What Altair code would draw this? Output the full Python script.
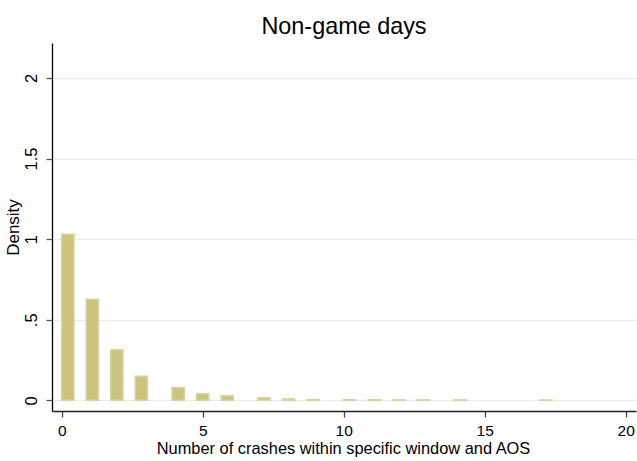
import numpy as np
import pandas as pd
import altair as alt

# Histogram of crash counts per window/AOS on non-game days (density scale)
crash_counts = [0, 1, 2, 3, 4, 5, 6, 7, 8, 9, 10, 11, 12, 13, 14, 17]
density = [1.031, 0.627, 0.314, 0.149, 0.080, 0.041, 0.029, 0.016,
           0.009, 0.006, 0.004, 0.004, 0.003, 0.003, 0.003, 0.002]
bin_width = 0.4347

x_ticks = [0, 5, 10, 15, 20]
y_ticks = [0, 0.5, 1, 1.5, 2]
y_tick_text = ["0", ".5", "1", "1.5", "2"]

counts = np.array(crash_counts, dtype=float)
left = np.floor(counts / bin_width) * bin_width
df = pd.DataFrame({
    "count": crash_counts,
    "bin_start": left,
    "bin_end": left + bin_width,
    "density": density,
})

FONT = "Liberation Sans"

label_expr = "{" + ", ".join(f"'{v}': '{t}'" for v, t in zip(y_ticks, y_tick_text)) + "}[datum.value + '']"

bars = alt.Chart(df).mark_bar(
    color="#cbc47f", stroke="#d9d3a0", strokeWidth=1.5
).encode(
    x=alt.X("bin_start:Q",
            scale=alt.Scale(domain=[-0.344, 20.365], nice=False, zero=False),
            axis=alt.Axis(values=x_ticks, format="d", grid=False,
                          title="Number of crashes within specific window and AOS",
                          titleFont=FONT, titleFontSize=16.4, titleFontWeight="normal",
                          titleColor="#000", titleBaseline="alphabetic",
                          titleY=42, titleX=291,
                          labelFont=FONT, labelFontSize=15.5, labelColor="#000",
                          labelPadding=6, tickSize=6, tickColor="#444",
                          tickWidth=1.3, domainColor="#222", domainWidth=1.3)),
    x2="bin_end:Q",
    y=alt.Y("density:Q",
            scale=alt.Scale(domain=[-0.066, 2.217], nice=False, zero=False),
            axis=alt.Axis(values=y_ticks, labelExpr=label_expr,
                          grid=True, gridColor="#e6eef1", gridWidth=1.5,
                          title="Density",
                          titleFont=FONT, titleFontSize=17, titleFontWeight="normal",
                          titleColor="#000", titleAngle=270, titleAlign="center",
                          titleBaseline="alphabetic", titleX=-34, titleY=184,
                          labelFont=FONT, labelFontSize=16.5, labelColor="#000",
                          labelAngle=270, labelAlign="center", labelBaseline="bottom",
                          labelPadding=7, tickSize=6, tickColor="#555",
                          tickWidth=1.3, domainColor="#000", domainWidth=1.3)),
    y2=alt.datum(0),
)

chart = bars.properties(
    width=584,
    height=368,
    title=alt.TitleParams("Non-game days", font=FONT, fontSize=23.4,
                          fontWeight="normal", color="#000",
                          anchor="middle", baseline="alphabetic", offset=8, dy=22),
    autosize=alt.AutoSizeParams(type="none"),
    padding={"left": 52, "top": 43, "right": 1, "bottom": 50},
    background="white",
).configure_view(strokeWidth=0)

chart.save("out.html", embed_options={"renderer": "svg", "actions": False})
